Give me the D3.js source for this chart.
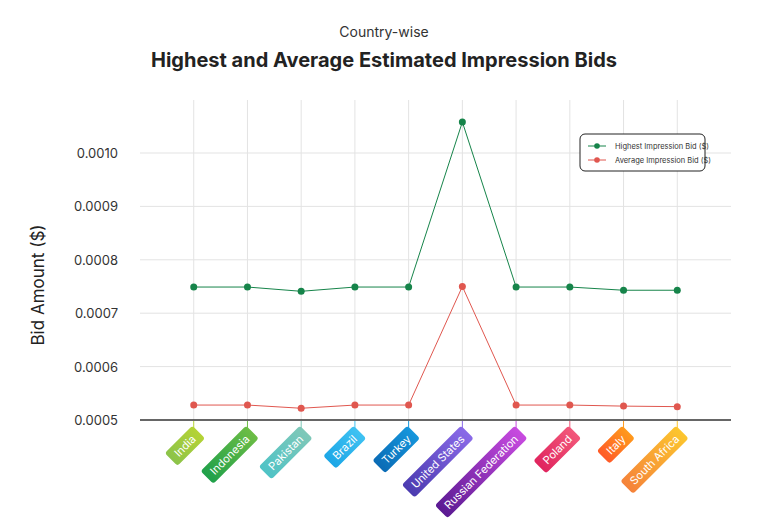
<!DOCTYPE html>
<html><head><meta charset="utf-8">
<script src="https://cdn.jsdelivr.net/npm/d3@7"></script>
<style>body{margin:0;background:#fff}text{font-family:Inter,"DejaVu Sans",sans-serif}</style>
</head><body><svg id="c" width="768" height="519"></svg>
<script>
const countries = ["India","Indonesia","Pakistan","Brazil","Turkey","United States","Russian Federation","Poland","Italy","South Africa"];
const highest = [0.000749,0.000749,0.000741,0.000749,0.000749,0.001058,0.000749,0.000749,0.000743,0.000743];
const average = [0.000528,0.000528,0.000522,0.000528,0.000528,0.000750,0.000528,0.000528,0.000526,0.000525];
const yTicks = [0.0005,0.0006,0.0007,0.0008,0.0009,0.0010];
const tagColors = [["#8bc34a","#b5d335"],["#1fa04a","#6dbd45"],["#4fc3c6","#7fc8b8"],["#1ca6e6","#3fc2f2"],["#0a6bb5","#1596dc"],["#4b3bb0","#8a6ae8"],["#5a1a92","#c84be0"],["#e0245e","#f2587a"],["#ff5a28","#ff9a1c"],["#f5823a","#fcc62e"]];

const svg = d3.select('#c');
const x = d3.scalePoint().domain(countries).range([140,731]).padding(1);
const y = d3.scaleLinear().domain([0.0005,0.0010]).range([420,153]);

svg.append('text').attr('x',384).attr('y',37).attr('text-anchor','middle')
    .attr('font-size',14).attr('fill','#333').text('Country-wise');
svg.append('text').attr('x',384).attr('y',67).attr('text-anchor','middle')
    .attr('font-size',20).attr('font-weight','bold').attr('fill','#222')
    .text('Highest and Average Estimated Impression Bids');
svg.append('text').attr('transform','translate(44,285) rotate(-90)').attr('text-anchor','middle')
    .attr('font-size',17).attr('fill','#222').text('Bid Amount ($)');

// grid
svg.append('g').selectAll('line').data(yTicks.slice(1)).join('line')
    .attr('x1',140).attr('x2',731).attr('y1',d=>y(d)).attr('y2',d=>y(d))
    .attr('stroke','#e3e3e3');
svg.append('g').selectAll('line').data(countries).join('line')
    .attr('x1',d=>x(d)).attr('x2',d=>x(d)).attr('y1',100).attr('y2',420)
    .attr('stroke','#e3e3e3');
svg.append('g').selectAll('text').data(yTicks).join('text')
    .attr('x',118).attr('y',d=>y(d)+5).attr('text-anchor','end')
    .attr('font-size',13).attr('fill','#333').text(d=>d.toFixed(4));
svg.append('line').attr('x1',140).attr('x2',731).attr('y1',420).attr('y2',420)
    .attr('stroke','#333').attr('stroke-width',1.5);

// tags
const defs = svg.append('defs');
tagColors.forEach((c,i)=>{
  const g = defs.append('linearGradient').attr('id','g'+i);
  g.append('stop').attr('offset','0%').attr('stop-color',c[0]);
  g.append('stop').attr('offset','100%').attr('stop-color',c[1]);
});
countries.forEach((c,i)=>{
  const cx = x(c);
  svg.append('line').attr('x1',cx).attr('x2',cx).attr('y1',421).attr('y2',428)
      .attr('stroke',tagColors[i][1]).attr('stroke-width',1);
  const g = svg.append('g').attr('transform',`translate(${cx+5},${432}) rotate(-45)`);
  const t = g.append('text').attr('x',-7).attr('y',4).attr('text-anchor','end')
      .attr('font-size',11).attr('fill','#fff').text(c);
  const w = t.node().getComputedTextLength()+14;
  g.insert('rect','text').attr('x',-w).attr('y',-9).attr('width',w).attr('height',18)
      .attr('rx',3).attr('fill',`url(#g${i})`);
});

// lines
const series = [{v:highest,c:'#16844a'},{v:average,c:'#e0574f'}];
series.forEach(s=>{
  svg.append('path').datum(s.v).attr('fill','none').attr('stroke',s.c).attr('stroke-width',1)
     .attr('d',d3.line().x((d,i)=>x(countries[i])).y(d=>y(d)));
  svg.append('g').selectAll('circle').data(s.v).join('circle')
     .attr('cx',(d,i)=>x(countries[i])).attr('cy',d=>y(d)).attr('r',3.5).attr('fill',s.c);
});

// legend
const lg = svg.append('g').attr('transform','translate(580,134)');
lg.append('rect').attr('width',125).attr('height',37).attr('rx',5)
  .attr('fill','#fff').attr('stroke','#222');
[['Highest Impression Bid ($)',series[0].c],['Average Impression Bid ($)',series[1].c]].forEach((d,i)=>{
  const yy = 12+i*14;
  lg.append('line').attr('x1',8).attr('x2',26).attr('y1',yy).attr('y2',yy).attr('stroke',d[1]);
  lg.append('circle').attr('cx',17).attr('cy',yy).attr('r',2.8).attr('fill',d[1]);
  lg.append('text').attr('x',35).attr('y',yy+2.5).attr('font-size',7.5).attr('fill','#333').text(d[0]);
});
</script></body></html>
